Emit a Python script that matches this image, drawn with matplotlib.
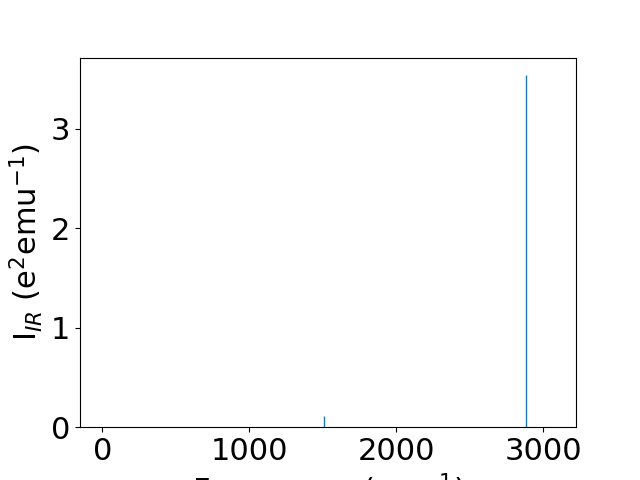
import matplotlib
matplotlib.use("Agg")
import matplotlib.pyplot as plt

# IR modes
freqs = [1511, 2886]
intens = [0.11, 3.54]

fig, ax = plt.subplots(figsize=(6.4, 4.8), dpi=100)
ax.vlines(freqs, 0, intens, color="tab:blue", linewidth=1)
ax.set_xlim(-153, 3223)
ax.set_ylim(0, 3.717)
ax.set_xticks([0, 1000, 2000, 3000])
ax.set_yticks([0, 1, 2, 3])
ax.tick_params(labelsize=22)
ax.set_xlabel("Frequency (cm$^{-1}$)", fontsize=22)
ax.set_ylabel("I$_{IR}$ (e$^{2}$emu$^{-1}$)", fontsize=22)
fig.savefig("out.png")
